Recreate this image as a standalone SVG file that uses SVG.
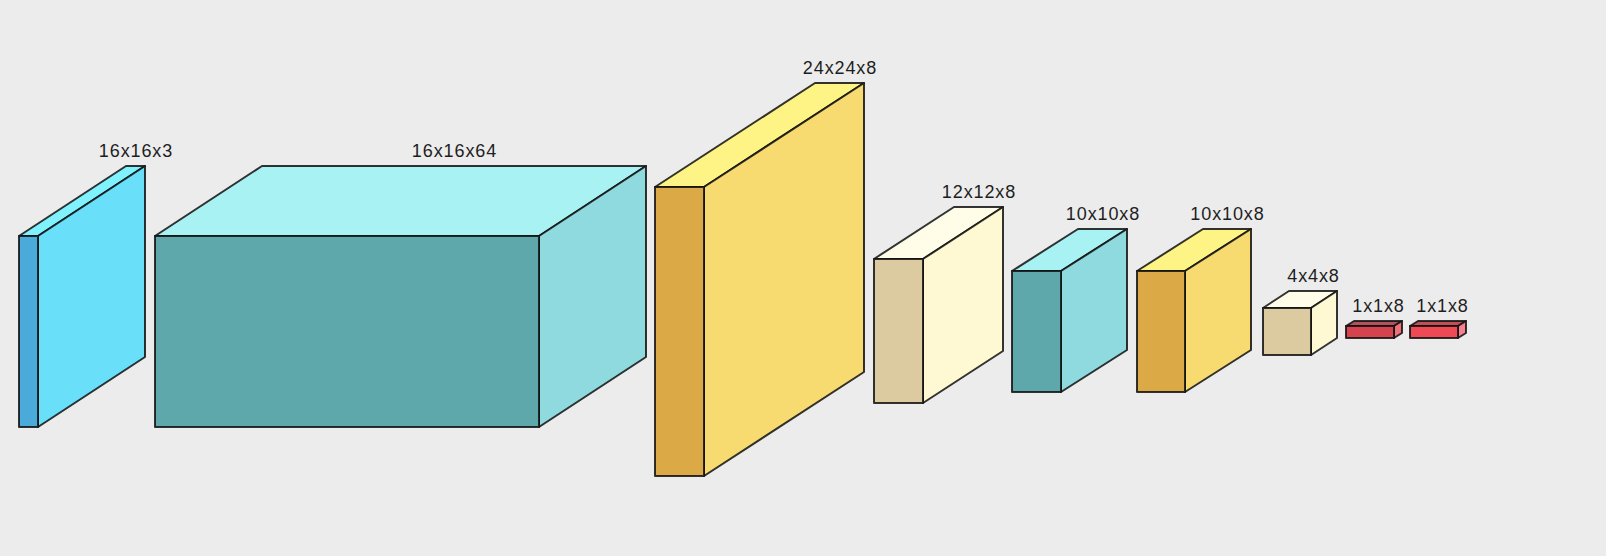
<svg xmlns="http://www.w3.org/2000/svg" width="1606" height="556" viewBox="0 0 1606 556">
<style>
.e{stroke:#111;stroke-width:2;stroke-opacity:0.85;stroke-linejoin:round}
.lbl{font-family:"Liberation Sans",Arial,sans-serif;font-size:18px;letter-spacing:0.9px;fill:#1e1e1e;text-anchor:middle}
.blueF{fill:#4aabdb}.blueT{fill:#80f2fd}.blueS{fill:#69dffa}
.tealF{fill:#5ea8ac}.tealT{fill:#a8f2f4}.tealS{fill:#8fdade}
.yelF{fill:#dba945}.yelT{fill:#fef385}.yelS{fill:#f7db70}
.begF{fill:#dccaa0}.begT{fill:#fffde8}.begS{fill:#fef9d2}
.r1F{fill:#d5434f}.r1T{fill:#b4525c}.r1S{fill:#f0707a}
.r2F{fill:#ee4a55}.r2T{fill:#c05058}.r2S{fill:#f58090}
</style>
<rect width="1606" height="556" fill="#ececec"/>
<g id="layer1">
<polygon class="e blueT" points="19,236 38,236 145,166 126,166"/>
<polygon class="e blueS" points="38,236 145,166 145,357 38,427"/>
<rect class="e blueF" x="19" y="236" width="19" height="191"/>
<text class="lbl" x="136" y="157">16x16x3</text>
</g>
<g id="layer2">
<polygon class="e tealT" points="155,236 539,236 646,166 262,166"/>
<polygon class="e tealS" points="539,236 646,166 646,357 539,427"/>
<rect class="e tealF" x="155" y="236" width="384" height="191"/>
<text class="lbl" x="454.5" y="157">16x16x64</text>
</g>
<g id="layer3">
<polygon class="e yelT" points="655,187 704,187 864,83 815,83"/>
<polygon class="e yelS" points="704,187 864,83 864,372 704,476"/>
<rect class="e yelF" x="655" y="187" width="49" height="289"/>
<text class="lbl" x="840" y="74">24x24x8</text>
</g>
<g id="layer4">
<polygon class="e begT" points="874,259 923,259 1003,207 954,207"/>
<polygon class="e begS" points="923,259 1003,207 1003,351 923,403"/>
<rect class="e begF" x="874" y="259" width="49" height="144"/>
<text class="lbl" x="979" y="198">12x12x8</text>
</g>
<g id="layer5">
<polygon class="e tealT" points="1012,271 1061,271 1127,229 1078,229"/>
<polygon class="e tealS" points="1061,271 1127,229 1127,350 1061,392"/>
<rect class="e tealF" x="1012" y="271" width="49" height="121"/>
<text class="lbl" x="1103" y="220">10x10x8</text>
</g>
<g id="layer6">
<polygon class="e yelT" points="1137,271 1185,271 1251,229 1203,229"/>
<polygon class="e yelS" points="1185,271 1251,229 1251,350 1185,392"/>
<rect class="e yelF" x="1137" y="271" width="48" height="121"/>
<text class="lbl" x="1227.5" y="220">10x10x8</text>
</g>
<g id="layer7">
<polygon class="e begT" points="1263,308 1311,308 1337,291 1289,291"/>
<polygon class="e begS" points="1311,308 1337,291 1337,338 1311,355"/>
<rect class="e begF" x="1263" y="308" width="48" height="47"/>
<text class="lbl" x="1313.5" y="282">4x4x8</text>
</g>
<g id="layer8">
<polygon class="e r1T" points="1346,326 1394,326 1402,321 1354,321"/>
<polygon class="e r1S" points="1394,326 1402,321 1402,333 1394,338"/>
<rect class="e r1F" x="1346" y="326" width="48" height="12"/>
<text class="lbl" x="1378.5" y="312">1x1x8</text>
</g>
<g id="layer9">
<polygon class="e r2T" points="1410,326 1458,326 1466,321 1418,321"/>
<polygon class="e r2S" points="1458,326 1466,321 1466,333 1458,338"/>
<rect class="e r2F" x="1410" y="326" width="48" height="12"/>
<text class="lbl" x="1442.5" y="312">1x1x8</text>
</g>
<g id="connectors"/>
</svg>
